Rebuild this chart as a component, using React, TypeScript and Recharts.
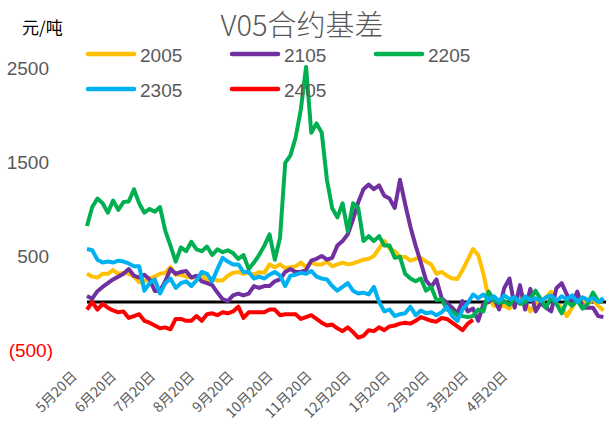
import { LineChart, Line, XAxis, YAxis, ReferenceLine, Legend } from "recharts";

// sampled every 4 days starting at 5月20日
const v2005 = [
  300, 270, 260, 300, 300, 340, 300, 310, 300, 270, 210, 220, 250, 270, 300, 310, 370, 290, 290, 270, 260, 260, 290, 220, 250,
  230, 230, 280, 310, 320, 300, 310, 290, 320, 310, 400, 370, 400, 360, 370, 380, 420, 370, 420, 400, 400, 430, 380, 400, 420,
  400, 410, 430, 450, 460, 490, 570, 650, 570, 540, 480, 480, 440, 460, 470, 430, 400, 300, 320, 280, 250, 245, 340, 450, 564,
  500, 300, 40, -40, -50, -40, -70, 0, 50, 0, -100, 0, -20, 50, 110, -20, -60, -150, -60, 30, 30, -20, 30, -40, -90,
];
const v2105 = [
  64, 35, 115, 160, 200, 240, 270, 300, 350, 280, 260, 290, 240, 117, 117, 220, 350, 300, 320, 330, 260, 280, 220, 200, 180,
  100, 30, 10, 70, 90, 70, 90, 170, 150, 170, 170, 220, 240, 320, 350, 320, 320, 340, 440, 460, 490, 450, 470, 600, 650,
  720, 880, 1060, 1200, 1250, 1200, 1240, 1130, 1100, 1000, 1300, 1040, 800, 600, 420, 230, 160, 240, 40, -10, -60, -120, 10, -100, -70,
  -200, -20, 0, 40, -80, 150, 250, -60, 180, -80, 140, -100, -10, -60, -100, 150, 200, 80, -20, 110, -60, -60, -60, -150, -160,
];
const v2205 = [
  809, 1011, 1100, 1050, 950, 1080, 980, 1064, 1070, 1200, 1050, 950, 990, 960, 1010, 760, 600, 430, 580, 540, 640, 560, 540, 590, 500,
  560, 530, 550, 520, 458, 500, 350, 420, 500, 600, 720, 450, 680, 1480, 1560, 1750, 2050, 2500, 1800, 1900, 1800, 1300, 1000, 900, 1050,
  750, 1050, 1000, 650, 700, 650, 700, 600, 600, 470, 480, 300, 250, 220, 250, 120, 160, 20, 30, -80, -100, -140, -150, -160, -150,
  -80, -100, 110, 20, -10, 10, -30, 50, -20, 0, 40, 120, 30, -60, 50, -20, -120, 10, -40, 20, -70, -20, 100, 10, 10,
];
const v2305 = [
  564, 550, 450, 420, 430, 420, 440, 430, 410, 380, 380, 120, 200, 240, 90, 200, 250, 150, 200, 220, 170, 230, 320, 300, 220,
  350, 470, 430, 400, 400, 320, 320, 250, 270, 250, 290, 320, 280, 170, 280, 290, 310, 300, 330, 270, 250, 240, 170, 120, 160,
  200, 120, 90, 100, 80, 160, 0, -100, -80, -150, -130, -120, -50, -140, -90, -120, -110, -140, -110, -50, -150, -200, -80, -10, 80,
  40, 80, 20, 60, 10, 70, 30, 50, 0, 60, 20, 40, 10, 50, 70, 10, 60, 30, 70, 0, 50, 20, 40, 0, 40,
];
const v2405: (number | null)[] = [
  -80, 0, -80, -20, -60, -90, -110, -100, -170, -150, -130, -200, -220, -250, -280, -270, -290, -180, -180, -200, -200, -150, -200, -130, -120,
  -140, -110, -120, -100, -50, -170, -110, -110, -110, -110, -80, -80, -140, -130, -130, -130, -180, -160, -140, -180, -220, -250, -240, -280, -310,
  -270, -320, -380, -360, -300, -310, -270, -300, -260, -250, -230, -220, -230, -200, -160, -180, -200, -210, -170, -180, -220, -260, -300, -230, -190,
  null, null, null, null, null, null, null, null, null, null, null, null, null, null, null, null, null, null, null, null, null, null, null, null, null,
];

const monthTicks = [0, 30, 60, 90, 120, 150, 180, 210, 240, 270, 300, 330];
const monthLabels = ["5月20日", "6月20日", "7月20日", "8月20日", "9月20日", "10月20日", "11月20日", "12月20日", "1月20日", "2月20日", "3月20日", "4月20日"];
const yTicks = [-500, 500, 1500, 2500];

const series = [
  { name: "2005", color: "#FFC000", values: v2005 },
  { name: "2105", color: "#7030A0", values: v2105 },
  { name: "2205", color: "#00B050", values: v2205 },
  { name: "2305", color: "#00B0F0", values: v2305 },
  { name: "2405", color: "#FF0000", values: v2405 },
];

const chartData = v2005.map((_, i) => {
  const row: Record<string, number | null> = { day: i * 4 };
  series.forEach((s) => {
    row["s" + s.name] = s.values[i];
  });
  return row;
});

const numFont = "'Liberation Sans', Arial, sans-serif";
const cjkFont = "'Noto Sans CJK SC', sans-serif";

const XTick = ({ x, payload }: any) => {
  const idx = monthTicks.indexOf(payload.value);
  return (
    <text
      transform={`translate(${x - 9},377) rotate(-45)`}
      textAnchor="end"
      fontSize={14}
      fill="#595959"
      fontFamily={cjkFont}
    >
      {monthLabels[idx]}
    </text>
  );
};

const YTick = ({ y, payload }: any) => {
  const v = payload.value;
  return (
    <text x={v < 0 ? 53 : 49} y={y + 8} textAnchor="end" fontSize={19} fontFamily={numFont} fill={v < 0 ? "#FF0000" : "#595959"}>
      {v < 0 ? `(${-v})` : v}
    </text>
  );
};

const legendPos = [
  [88, 54],
  [232, 54],
  [376, 54],
  [88, 89],
  [232, 89],
];

const LegendBox = () => (
  <svg width={609} height={110}>
    {series.map((s, i) => (
      <g key={s.name}>
        <line
          x1={legendPos[i][0]}
          x2={legendPos[i][0] + 46}
          y1={legendPos[i][1]}
          y2={legendPos[i][1]}
          stroke={s.color}
          strokeWidth={4.5}
          strokeLinecap="round"
        />
        <text x={legendPos[i][0] + 52} y={legendPos[i][1] + 8} fontSize={19} fontFamily={numFont} fill="#595959">
          {s.name}
        </text>
      </g>
    ))}
  </svg>
);

export default function App() {
  return (
    <div style={{ position: "absolute", left: 0, top: 0, width: 609, height: 423, background: "#fff" }}>
      <LineChart width={609} height={423} data={chartData} margin={{ top: 67, right: 3, left: 7, bottom: 0 }}>
        <XAxis
          dataKey="day"
          type="number"
          domain={[0, 398]}
          ticks={monthTicks}
          axisLine={false}
          tickLine={false}
          height={74}
          tick={<XTick />}
          interval={0}
        />
        <YAxis
          domain={[-500, 2500]}
          ticks={yTicks}
          axisLine={false}
          tickLine={false}
          width={80}
          tick={<YTick />}
          interval={0}
        />
        <ReferenceLine y={0} stroke="#000" strokeWidth={3} />
        {series.map((s) => (
          <Line
            key={s.name}
            type="linear"
            dataKey={"s" + s.name}
            name={s.name}
            stroke={s.color}
            strokeWidth={4}
            strokeLinejoin="round"
            dot={false}
            isAnimationActive={false}
          />
        ))}
        <Legend
          layout="horizontal"
          verticalAlign="middle"
          align="center"
          content={<LegendBox />}
          wrapperStyle={{ position: "absolute", left: 0, top: 0, width: 609, height: 110 }}
        />
      </LineChart>
      <svg width={609} height={46} style={{ position: "absolute", left: 0, top: 0 }}>
        <text x={22} y={34} fontSize={17} fontFamily={cjkFont} fill="#000">
          元/吨
        </text>
        <text x={302} y={36} textAnchor="middle" fontSize={29} fontWeight={300} fontFamily={cjkFont} fill="#595959">
          V05合约基差
        </text>
      </svg>
    </div>
  );
}
